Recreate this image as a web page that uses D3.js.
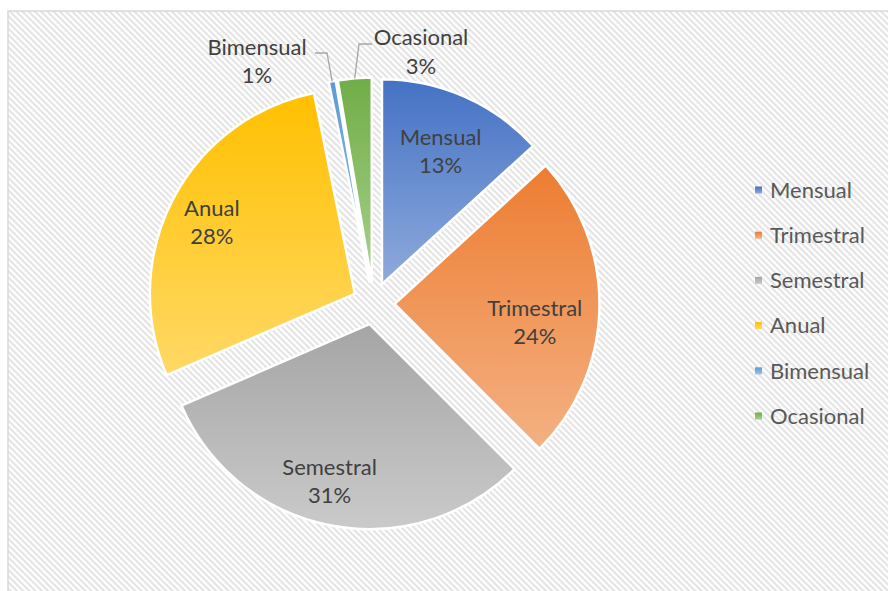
<!DOCTYPE html>
<html>
<head>
<meta charset="utf-8">
<script src="https://cdn.jsdelivr.net/npm/d3@7"></script>
<style>
  html, body { margin: 0; padding: 0; background: #ffffff; }
  svg { display: block; }
</style>
</head>
<body>
<svg id="chart" width="888" height="591"></svg>
<script>
// ---- data ----
const categories = ["Mensual", "Trimestral", "Semestral", "Anual", "Bimensual", "Ocasional"];
const values = [13.2, 24.3, 31.0, 28.3, 0.55, 2.65];
const topColors = ["#4472C4", "#ED7D31", "#A5A5A5", "#FFC000", "#5B9BD5", "#70AD47"];
const bottomColors = ["#8FAADC", "#F4B183", "#CACACA", "#FFD966", "#9DC3E6", "#A9D18E"];

// ---- layout ----
const W = 888, H = 591;
const cx = 373.5, cy = 303.5, R = 205, explode = 21;
const FONT = "Lato, 'Open Sans', sans-serif";
const FS = 22;
// label placement (polar, relative to each exploded slice centre): [radius fraction, angle tweak deg]
const insideLabel = { 0: [0.71, 0], 1: [0.69, 6], 2: [0.79, 3.5], 3: [0.78, -1] };
// outside labels with leader lines
const outsideLabel = {
  4: { x: 257, y1: 47, y2: 75, elbow: [327, 53], end: [315, 53] },
  5: { x: 421, y1: 37, y2: 66, elbow: [359, 44], end: [372, 44] }
};

const svg = d3.select("#chart");
const defs = svg.append("defs");

// hatch background pattern
const pat = defs.append("pattern")
  .attr("id", "hatch").attr("patternUnits", "userSpaceOnUse")
  .attr("width", 10).attr("height", 4.4)
  .attr("patternTransform", "rotate(45)");
pat.append("rect").attr("width", 10).attr("height", 4.4).attr("fill", "#ffffff");
pat.append("rect").attr("width", 10).attr("height", 2.1).attr("fill", "#e3e3e3");

// gradients
categories.forEach((c, i) => {
  const g = defs.append("linearGradient").attr("id", "grad" + i)
    .attr("x1", 0).attr("y1", 0).attr("x2", 0).attr("y2", 1);
  g.append("stop").attr("offset", "0%").attr("stop-color", topColors[i]);
  g.append("stop").attr("offset", "100%").attr("stop-color", bottomColors[i]);
});

svg.append("rect").attr("width", W).attr("height", H).attr("fill", "#ffffff");
svg.append("rect").attr("x", 8).attr("y", 11).attr("width", 920).attr("height", 620)
  .attr("fill", "url(#hatch)").attr("stroke", "#d9d9d9").attr("stroke-width", 1.5);

const total = d3.sum(values);
const pie = d3.pie().sort(null).value(d => d);
const arcs = pie(values);
const arc = d3.arc().innerRadius(0).outerRadius(R);

const mid = d => (d.startAngle + d.endAngle) / 2;
const off = d => [Math.sin(mid(d)) * explode, -Math.cos(mid(d)) * explode];

const g = svg.append("g").attr("transform", `translate(${cx},${cy})`);

g.selectAll("path.slice").data(arcs).enter().append("path")
  .attr("class", "slice")
  .attr("transform", d => { const o = off(d); return `translate(${o[0]},${o[1]})`; })
  .attr("d", arc)
  .attr("fill", (d, i) => `url(#grad${i})`)
  .attr("stroke", "#ffffff").attr("stroke-width", 2.5).attr("stroke-linejoin", "miter");

const pct = d => Math.round(d.value / total * 100) + "%";

// inside labels
arcs.forEach((d, i) => {
  if (!insideLabel[i]) return;
  const [f, tw] = insideLabel[i];
  const a = mid(d) + tw * Math.PI / 180;
  const o = off(d);
  const x = o[0] + Math.sin(a) * R * f;
  const y = o[1] - Math.cos(a) * R * f;
  const t = g.append("text").attr("text-anchor", "middle")
    .attr("font-family", FONT).attr("font-size", FS).attr("fill", "#404040");
  t.append("tspan").attr("x", x).attr("y", y - 14).attr("dy", "0.35em").text(categories[i]);
  t.append("tspan").attr("x", x).attr("y", y + 14).attr("dy", "0.35em").text(pct(d));
});

// outside labels + leader lines
arcs.forEach((d, i) => {
  const L = outsideLabel[i];
  if (!L) return;
  const a = mid(d);
  const px = cx + Math.sin(a) * (R + explode);
  const py = cy - Math.cos(a) * (R + explode);
  svg.append("polyline")
    .attr("points", [L.end, L.elbow, [px, py]].map(p => p.join(",")).join(" "))
    .attr("fill", "none").attr("stroke", "#a6a6a6").attr("stroke-width", 1.3);
  const t = svg.append("text").attr("text-anchor", "middle")
    .attr("font-family", FONT).attr("font-size", FS).attr("fill", "#404040");
  t.append("tspan").attr("x", L.x).attr("y", L.y1).attr("dy", "0.35em").text(categories[i]);
  t.append("tspan").attr("x", L.x).attr("y", L.y2).attr("dy", "0.35em").text(pct(d));
});

// legend
const ly = d3.scalePoint().domain(categories).range([190, 416]);
const leg = svg.append("g");
categories.forEach((c, i) => {
  leg.append("rect").attr("x", 755).attr("y", ly(c) - 3.5).attr("width", 7).attr("height", 7)
    .attr("fill", `url(#grad${i})`);
  leg.append("text").attr("x", 770).attr("y", ly(c)).attr("dy", "0.35em")
    .attr("font-family", FONT).attr("font-size", FS).attr("fill", "#595959").text(c);
});
</script>
</body>
</html>
